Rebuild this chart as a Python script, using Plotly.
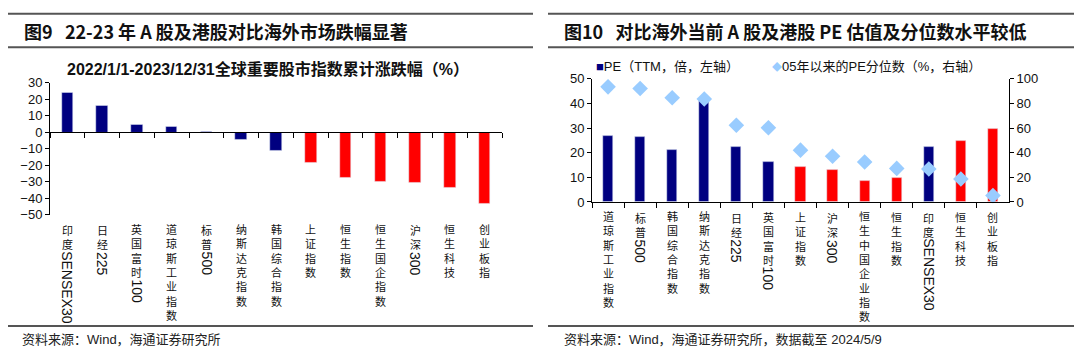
import plotly.graph_objects as go

W, H = 1080, 359

# ---------------- data ----------------
left_cats = ["印度SENSEX30", "日经225", "英国富时100", "道琼斯工业指数", "标普500",
             "纳斯达克指数", "韩国综合指数", "上证指数", "恒生指数", "恒生国企指数",
             "沪深300", "恒生科技", "创业板指"]
left_vals = [23.9, 16.2, 4.7, 3.5, 0.4, -4.4, -10.9, -18.6, -27.3, -29.8, -30.5, -33.8, -43.3]
left_group = ["海外"] * 7 + ["A股港股"] * 6

right_cats = ["道琼斯工业指数", "标普500", "韩国综合指数", "纳斯达克指数", "日经225",
              "英国富时100", "上证指数", "沪深300", "恒生中国企业指数", "恒生指数",
              "印度SENSEX30", "恒生科技", "创业板指"]
right_pe = [26.8, 26.5, 21.3, 41.3, 22.2, 16.5, 14.2, 12.9, 8.7, 9.9, 22.2, 24.9, 29.5]
right_pct = [93.5, 92.2, 84.7, 83.6, 62.3, 60.3, 42.1, 37.1, 32.5, 27.3, 26.8, 18.7, 5.2]
right_group = ["海外"] * 6 + ["A股港股"] * 4 + ["海外"] + ["A股港股"] * 2

left_yticks = [30, 20, 10, 0, -10, -20, -30, -40, -50]

NAVY = "#000080"
RED = "#FF0000"
LIGHT = "#99CCFF"
FONT = "Liberation Sans, Arial, Noto Sans CJK SC"
CJK = "Noto Sans CJK SC, Liberation Sans"
gcol = {"海外": NAVY, "A股港股": RED}


def px(x):
    return x / W


def py(y):
    return 1 - y / H


fig = go.Figure()

# left panel geometry (pixels)
L_x0, L_x1 = 50, 502
L_ytop, L_ybot = 79, 217     # 30 ... -50
# right panel
R_x0, R_x1 = 592, 1009
R_ytop, R_ybot = 75, 203.5   # 50 ... 0

fig.add_trace(go.Bar(x=left_cats, y=left_vals, marker_color=[gcol[g] for g in left_group],
                     width=0.33, xaxis="x", yaxis="y", showlegend=False))
fig.add_trace(go.Bar(x=right_cats, y=right_pe, marker_color=[gcol[g] for g in right_group],
                     width=0.32, xaxis="x2", yaxis="y2", showlegend=False))
fig.add_trace(go.Scatter(x=right_cats, y=right_pct, mode="markers", xaxis="x2", yaxis="y3",
                         marker=dict(symbol="diamond", size=12, color=LIGHT),
                         cliponaxis=False, showlegend=False))

ly_dom = [py(L_ybot), py(L_ytop)]
zero_pos = ly_dom[0] + (0 - (-50)) / 80 * (ly_dom[1] - ly_dom[0])

axis_common = dict(showgrid=False, zeroline=False, showline=True, linecolor="black",
                   linewidth=1, tickcolor="black", ticks="outside",
                   tickfont=dict(family=FONT, size=13, color="#111"))
axis_x = {k: v for k, v in axis_common.items() if k != "tickfont"}

fig.update_layout(
    width=W, height=H, margin=dict(l=0, r=0, t=0, b=0),
    paper_bgcolor="white", plot_bgcolor="rgba(0,0,0,0)",
    bargap=0, font=dict(family=FONT, color="#111"),
    xaxis=dict(domain=[px(L_x0), px(L_x1)], type="category", range=[-0.5, 12.5],
               anchor="free", position=zero_pos, tickson="boundaries", ticklen=5,
               showticklabels=False, **axis_x),
    yaxis=dict(domain=ly_dom, range=[-50, 30], tickvals=left_yticks, ticklen=4,
               anchor="x", **axis_common),
    xaxis2=dict(domain=[px(R_x0), px(R_x1)], type="category", range=[-0.5, 12.5],
                anchor="y2", tickson="boundaries", ticklen=5, showticklabels=False, **axis_x),
    yaxis2=dict(domain=[py(R_ybot), py(R_ytop)], range=[0, 50], dtick=10, ticklen=4,
                anchor="x2", **axis_common),
    yaxis3=dict(range=[0, 100], dtick=20, ticklen=4, overlaying="y2", side="right",
                anchor="x2", **axis_common),
)

anns = []
shapes = []

# header / footer lines
for (a, b) in [(8, 533), (548, 1074)]:
    for y in (7, 42, 333):
        shapes.append(dict(type="line", xref="paper", yref="paper", x0=px(a), x1=px(b),
                           y0=py(y), y1=py(y), line=dict(color="#555", width=2)))

# titles
anns.append(dict(text="<b>图9   22-23 年 A 股及港股对比海外市场跌幅显著</b>", x=px(22), y=py(25),
                 xanchor="left", yanchor="middle", font=dict(family=CJK, size=18, color="#111")))
anns.append(dict(text="<b>图10   对比海外当前 A 股及港股 PE 估值及分位数水平较低</b>", x=px(562), y=py(25),
                 xanchor="left", yanchor="middle", font=dict(family=CJK, size=18, color="#111")))
anns.append(dict(text="<b>2022/1/1-2023/12/31全球重要股市指数累计涨跌幅（%）</b>", x=px(268), y=py(65),
                 xanchor="center", yanchor="middle", font=dict(family=FONT, size=16, color="#111")))
# legend (right)
anns.append(dict(text="<span style='color:%s'>■</span>PE（TTM，倍，左轴）" % NAVY, x=px(594), y=py(62),
                 xanchor="left", yanchor="middle", font=dict(family=FONT, size=13, color="#111")))
anns.append(dict(text="<span style='color:%s;font-size:10px'>◆</span>05年以来的PE分位数（%%，右轴）" % LIGHT,
                 x=px(770), y=py(62), xanchor="left", yanchor="middle",
                 font=dict(family=FONT, size=13, color="#111")))
# footers
anns.append(dict(text="资料来源：Wind，海通证券研究所", x=px(20), y=py(347), xanchor="left",
                 yanchor="middle", font=dict(family=FONT, size=13, color="#222")))
anns.append(dict(text="资料来源：Wind，海通证券研究所，数据截至 2024/5/9", x=px(562), y=py(347),
                 xanchor="left", yanchor="middle", font=dict(family=FONT, size=13, color="#222")))

# vertical category labels: CJK runs stacked upright, Latin runs rotated 90 degrees
AW = {"S": 0.667, "E": 0.667, "N": 0.722, "X": 0.667}
CJK_SIZE = 11
PITCH = 1.3 * CJK_SIZE


def is_cjk(ch):
    return ord(ch) > 0x2E80


def vlabel(cat, xref, top, lat_size):
    out = []
    y = top
    i = 0
    while i < len(cat):
        j = i
        cjk = is_cjk(cat[i])
        while j < len(cat) and is_cjk(cat[j]) == cjk:
            j += 1
        run = cat[i:j]
        if cjk:
            h = len(run) * PITCH
            out.append(dict(text="<br>".join(run), x=cat, xref=xref, y=py(y + h / 2), yref="paper",
                            xanchor="center", yanchor="middle", borderpad=0,
                            font=dict(family=CJK, size=CJK_SIZE, color="#111")))
            y += h
        else:
            L = sum(AW.get(c, 0.556) for c in run) * lat_size
            out.append(dict(text=run, textangle=90, x=cat, xref=xref, borderpad=0,
                            y=py(y + 2 + L / 2), yref="paper", xanchor="center", yanchor="middle",
                            font=dict(family=FONT, size=lat_size, color="#111")))
            y += L + 4
        i = j
    return out


for c in left_cats:
    anns += vlabel(c, "x", 226, 14)
for c in right_cats:
    anns += vlabel(c, "x2", 213, 14)

for a in anns:
    a.setdefault("xref", "paper")
    a.setdefault("yref", "paper")
    a["showarrow"] = False

fig.update_layout(annotations=anns, shapes=shapes)
fig.write_html("out.html", config={"displayModeBar": False},
               post_script="document.body.style.margin='0';")
